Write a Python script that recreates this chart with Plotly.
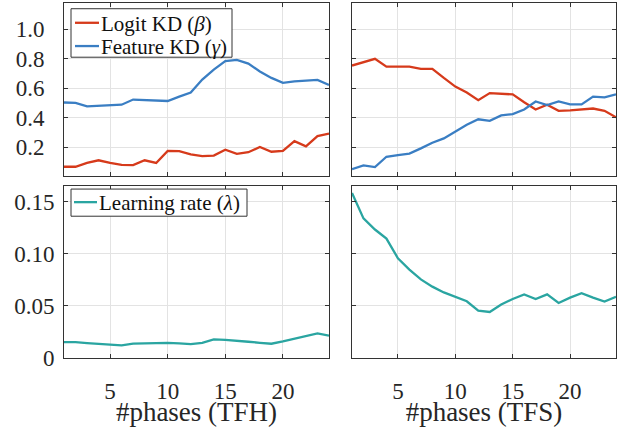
import plotly.graph_objects as go

phases = list(range(1, 25))

# TFH (top-left / bottom-left)
tfh_logit = [0.066, 0.066, 0.092, 0.110, 0.092, 0.079, 0.077, 0.110, 0.092, 0.174, 0.172, 0.150,
             0.138, 0.142, 0.182, 0.154, 0.165, 0.200, 0.168, 0.174, 0.240, 0.205, 0.274, 0.292]
tfh_feature = [0.503, 0.500, 0.477, 0.480, 0.484, 0.488, 0.523, 0.519, 0.515, 0.513, 0.543, 0.571,
               0.659, 0.727, 0.784, 0.793, 0.767, 0.714, 0.670, 0.637, 0.646, 0.652, 0.657, 0.622]
tfh_lr = [0.0151, 0.0150, 0.0141, 0.0132, 0.0126, 0.0119, 0.0135, 0.0138, 0.0141, 0.0144, 0.0138, 0.0132,
          0.0144, 0.0176, 0.0173, 0.0166, 0.0154, 0.0144, 0.0135, 0.0157, 0.0185, 0.0210, 0.0235, 0.0213]

# TFS (top-right / bottom-right)
tfs_logit = [0.754, 0.778, 0.800, 0.747, 0.747, 0.747, 0.732, 0.732, 0.670, 0.611, 0.571, 0.519,
             0.567, 0.560, 0.558, 0.505, 0.455, 0.488, 0.446, 0.450, 0.455, 0.462, 0.446, 0.402]
tfs_feature = [0.050, 0.075, 0.064, 0.134, 0.145, 0.156, 0.191, 0.229, 0.259, 0.305, 0.352, 0.389,
               0.378, 0.415, 0.424, 0.455, 0.510, 0.486, 0.510, 0.490, 0.490, 0.543, 0.538, 0.558]
tfs_lr = [0.1585, 0.1340, 0.1233, 0.1146, 0.0957, 0.0847, 0.0753, 0.0684, 0.0628, 0.0587, 0.0543, 0.0452,
          0.0440, 0.0512, 0.0565, 0.0609, 0.0565, 0.0609, 0.0527, 0.0578, 0.0621, 0.0578, 0.0540, 0.0587]

x_ticks = [5, 10, 15, 20]
kd_ticks = [0.2, 0.4, 0.6, 0.8, 1.0]
kd_ticktext = ["0.2", "0.4", "0.6", "0.8", "1.0"]
lr_ticks = [0, 0.05, 0.10, 0.15]
lr_ticktext = ["0", "0.05", "0.10", "0.15"]

name_logit = "Logit KD (<i>β</i>)"
name_feature = "Feature KD (<i>γ</i>)"
name_lr = "Learning rate (<i>λ</i>)"

RED = "#D63A1B"
BLUE = "#3A7EC3"
TEAL = "#2AA5A1"
FRAME = "#333333"
FONT = "Liberation Serif"
W, H = 619, 427

fig = go.Figure()
lw = 2.3
fig.add_trace(go.Scatter(x=phases, y=tfh_logit, mode="lines", line=dict(color=RED, width=lw),
                         name=name_logit, xaxis="x", yaxis="y"))
fig.add_trace(go.Scatter(x=phases, y=tfh_feature, mode="lines", line=dict(color=BLUE, width=lw),
                         name=name_feature, xaxis="x", yaxis="y"))
fig.add_trace(go.Scatter(x=phases, y=tfs_logit, mode="lines", line=dict(color=RED, width=lw),
                         name=name_logit, xaxis="x2", yaxis="y2"))
fig.add_trace(go.Scatter(x=phases, y=tfs_feature, mode="lines", line=dict(color=BLUE, width=lw),
                         name=name_feature, xaxis="x2", yaxis="y2"))
fig.add_trace(go.Scatter(x=phases, y=tfh_lr, mode="lines", line=dict(color=TEAL, width=lw),
                         name=name_lr, xaxis="x3", yaxis="y3"))
fig.add_trace(go.Scatter(x=phases, y=tfs_lr, mode="lines", line=dict(color=TEAL, width=lw),
                         name=name_lr, xaxis="x4", yaxis="y4"))

xl = [64 / W, 329 / W]
xr = [352 / W, 616 / W]
yt = [1 - 182 / H, 1 - 3 / H]
yb = [1 - 369 / H, 1 - 192 / H]

common = dict(showline=True, linecolor=FRAME, linewidth=1, mirror="ticks",
              ticks="inside", ticklen=4, tickcolor=FRAME,
              showgrid=True, gridcolor="#E3E3E3", gridwidth=1, zeroline=False,
              tickfont=dict(family=FONT, size=23, color="#262626"))

def xax(domain, anchor, labels, title=None):
    d = dict(common, domain=domain, anchor=anchor, range=[1, 24], tickvals=x_ticks,
             showticklabels=labels, ticklabelstandoff=13)
    if title:
        d["title"] = dict(text=title, font=dict(family=FONT, size=27, color="#262626"), standoff=0)
    return d

def yax(domain, anchor, rng, vals, text, labels, standoff):
    return dict(common, domain=domain, anchor=anchor, range=rng, tickvals=vals, ticktext=text,
                showticklabels=labels, ticklabelstandoff=standoff)

# manual legends (box, line samples, labels) in pixel -> paper coordinates
def px(x):
    return x / W

def py(y):
    return 1 - y / H

shapes = []
annotations = []

def add_legend(box, entries):
    x0, y0, x1, y1 = box
    shapes.append(dict(type="rect", xref="paper", yref="paper", x0=px(x0), x1=px(x1), y0=py(y1), y1=py(y0),
                       line=dict(color=FRAME, width=1), fillcolor="white", layer="above"))
    for (label, color, ly, lx0, lx1, tx) in entries:
        shapes.append(dict(type="line", xref="paper", yref="paper", x0=px(lx0), x1=px(lx1), y0=py(ly), y1=py(ly),
                           line=dict(color=color, width=lw), layer="above"))
        annotations.append(dict(text=label, xref="paper", yref="paper", x=px(tx), y=py(ly + 1),
                                xanchor="left", yanchor="middle", showarrow=False,
                                font=dict(family=FONT, size=21, color="#111111")))

add_legend((71, 9, 232, 59), [(name_logit, RED, 23.5, 75, 99, 99),
                              (name_feature, BLUE, 47.5, 75, 99, 99)])
add_legend((71, 195, 247, 223), [(name_lr, TEAL, 208.5, 74, 97, 97)])

fig.update_layout(
    width=W, height=H, margin=dict(l=0, r=0, t=0, b=0),
    paper_bgcolor="white", plot_bgcolor="white",
    font=dict(family=FONT, color="#262626"),
    showlegend=False,
    xaxis=xax(xl, "y", False),
    yaxis=yax(yt, "x", [0, 1.18], kd_ticks, kd_ticktext, True, 14),
    xaxis2=xax(xr, "y2", False),
    yaxis2=yax(yt, "x2", [0, 1.18], kd_ticks, kd_ticktext, False, 14),
    xaxis3=xax(xl, "y3", True, "#phases (TFH)"),
    yaxis3=yax(yb, "x3", [0, 0.165], lr_ticks, lr_ticktext, True, 4),
    xaxis4=xax(xr, "y4", True, "#phases (TFS)"),
    yaxis4=yax(yb, "x4", [0, 0.165], lr_ticks, lr_ticktext, False, 4),
    shapes=shapes,
    annotations=annotations,
)

fig.write_html("out.html", config={"displayModeBar": False},
               post_script="document.body.style.margin='0';document.body.style.padding='0';")
